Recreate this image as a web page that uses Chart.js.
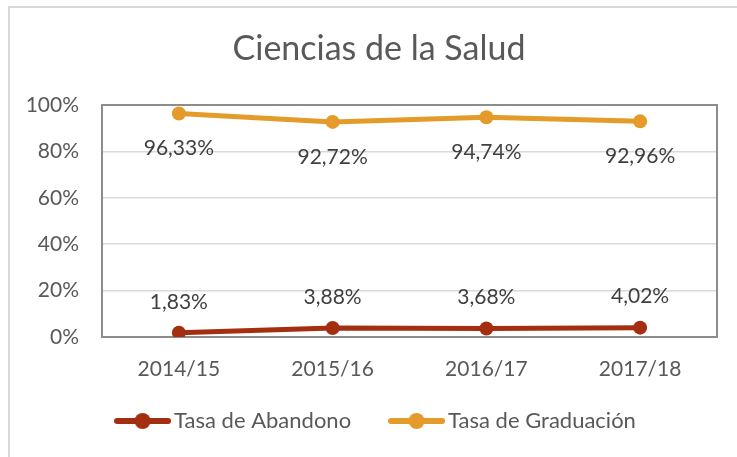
<!DOCTYPE html>
<html>
<head>
<meta charset="utf-8">
<script src="https://cdn.jsdelivr.net/npm/chart.js@4/dist/chart.umd.min.js"></script>
<style>
  html, body { margin: 0; padding: 0; background: #fff; overflow: hidden; }
  #frame { position: absolute; left: 8px; top: 6px; width: 900px; height: 600px;
           border-left: 2px solid #d9d9d9; border-top: 2px solid #d9d9d9; }
  #wrap { position: absolute; left: 10px; top: 8px; width: 740px; height: 470px; }
</style>
</head>
<body>
<div id="frame"></div>
<div id="wrap"><canvas id="salud"></canvas></div>
<script>
var cursos = ['2014/15', '2015/16', '2016/17', '2017/18'];
var tasaAbandono = [0.0183, 0.0388, 0.0368, 0.0402];
var tasaGraduacion = [0.9633, 0.9272, 0.9474, 0.9296];
var nombres = ['Tasa de Abandono', 'Tasa de Graduación'];
var colores = ['#A32F10', '#E49B2A'];

var fuente = 'Lato, "Open Sans", sans-serif';

// little line+dot swatch like the Excel legend
function swatch(color) {
  var c = document.createElement('canvas');
  c.width = 57;
  c.height = 18;
  var g = c.getContext('2d');
  g.strokeStyle = color;
  g.lineWidth = 6;
  g.lineCap = 'round';
  g.beginPath();
  g.moveTo(3, 9);
  g.lineTo(54, 9);
  g.stroke();
  g.fillStyle = color;
  g.beginPath();
  g.arc(28.5, 9, 8, 0, Math.PI * 2);
  g.fill();
  return c;
}

function pct(v) {
  return (v * 100).toFixed(2).replace('.', ',') + '%';
}

// let the axis labels spill out of their boxes instead of being clipped
var noClip = {
  id: 'noClip',
  afterLayout: function (chart) {
    chart.scales.y.left = 0;
    chart.scales.x.bottom = chart.height;
  }
};

// gray box round the plot area
var plotBox = {
  id: 'plotBox',
  beforeDatasetsDraw: function (chart) {
    var a = chart.chartArea;
    var ctx = chart.ctx;
    ctx.save();
    ctx.strokeStyle = '#8c8c8c';
    ctx.lineWidth = 2;
    ctx.strokeRect(a.left, a.top, a.right - a.left, a.bottom - a.top);
    ctx.restore();
  }
};

// value labels: graduation below the point, abandono above
var valueLabels = {
  id: 'valueLabels',
  afterDatasetsDraw: function (chart) {
    var ctx = chart.ctx;
    ctx.save();
    ctx.font = '21px ' + fuente;
    ctx.fillStyle = '#404040';
    ctx.textAlign = 'center';
    ctx.textBaseline = 'middle';
    chart.data.datasets.forEach(function (ds, i) {
      var meta = chart.getDatasetMeta(i);
      var dy = i === 0 ? -31 : 35;
      meta.data.forEach(function (pt, j) {
        ctx.fillText(pct(ds.data[j]), pt.x, pt.y + dy);
      });
    });
    ctx.restore();
  }
};

var ctx = document.getElementById('salud');
new Chart(ctx, {
  type: 'line',
  data: {
    labels: cursos,
    datasets: [{
      label: nombres[0],
      data: tasaAbandono,
      borderColor: colores[0],
      backgroundColor: colores[0],
      borderWidth: 5,
      pointRadius: 7,
      pointBorderWidth: 0
    },
    {
      label: nombres[1],
      data: tasaGraduacion,
      borderColor: colores[1],
      backgroundColor: colores[1],
      borderWidth: 5,
      pointRadius: 7,
      pointBorderWidth: 0
    }]
  },
  options: {
    responsive: true,
    maintainAspectRatio: false,
    animation: false,
    layout: { padding: { top: 0, left: 31, right: 33, bottom: 36 } },
    plugins: {
      title: {
        display: true,
        text: 'Ciencias de la Salud',
        color: '#595959',
        font: { family: fuente, size: 34, weight: 'normal' },
        padding: { top: 20.6, bottom: 35.6 }
      },
      legend: {
        position: 'bottom',
        labels: {
          color: '#595959',
          font: { family: fuente, size: 22 },
          usePointStyle: true,
          pointStyleWidth: 41,
          padding: 45,
          generateLabels: function (chart) {
            return chart.data.datasets.map(function (ds, i) {
              return {
                text: ds.label,
                pointStyle: swatch(colores[i]),
                fillStyle: colores[i],
                strokeStyle: colores[i],
                lineWidth: 0,
                datasetIndex: i,
                fontColor: '#595959'
              };
            });
          }
        }
      },
      tooltip: { enabled: false }
    },
    scales: {
      x: {
        offset: true,
        grid: { display: false, drawTicks: false },
        border: { display: false },
        ticks: { color: '#595959', font: { family: fuente, size: 21 }, padding: 19.5 },
        afterFit: function (s) { s.height = 28; }
      },
      y: {
        min: 0,
        max: 1,
        grid: { color: '#d9d9d9', lineWidth: 1.5, drawTicks: false },
        border: { display: false },
        ticks: {
          stepSize: 0.2,
          color: '#595959',
          font: { family: fuente, size: 21 },
          padding: 23,
          callback: function (v) { return Math.round(v * 100) + '%'; }
        },
        afterFit: function (s) { s.width = 61; }
      }
    }
  },
  plugins: [noClip, plotBox, valueLabels]
});
</script>
</body>
</html>
